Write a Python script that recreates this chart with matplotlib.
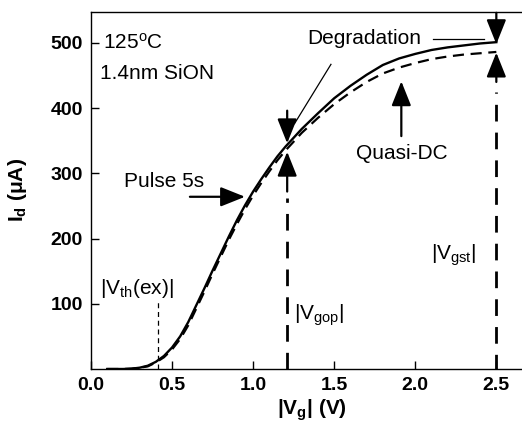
import numpy as np
import matplotlib
matplotlib.use("Agg")
import matplotlib.pyplot as plt

plt.rcParams['font.family'] = ['Liberation Sans', 'DejaVu Sans']
plt.rcParams['mathtext.fontset'] = 'custom'
plt.rcParams['mathtext.rm'] = 'Liberation Sans'
plt.rcParams['mathtext.it'] = 'Liberation Sans:italic'
plt.rcParams['mathtext.bf'] = 'Liberation Sans:bold'

# gate voltage points (V)
vg = [0.10, 0.20, 0.25, 0.30, 0.35, 0.40, 0.45, 0.50, 0.55, 0.60, 0.65, 0.70, 0.75,
      0.80, 0.85, 0.90, 0.95, 1.00, 1.05, 1.10, 1.15, 1.20, 1.30, 1.40, 1.50, 1.60,
      1.70, 1.80, 1.90, 2.00, 2.10, 2.20, 2.30, 2.40, 2.50]
# pulse 5s curve (solid), uA
id_pulse = [0, 0, 0.5, 2, 5, 11, 20, 33, 50, 72, 98, 124, 151,
            177, 203, 228, 251, 272, 291, 309, 326, 341, 368, 392, 415, 434,
            451, 466, 476, 483, 489, 493, 496, 499, 501]
# quasi-DC curve (dashed), uA
id_qdc = [0, 0, 0.5, 2, 4, 10, 18, 30, 46, 67, 93, 119, 146,
          172, 198, 222, 245, 266, 285, 303, 320, 335, 362, 385, 406, 424,
          440, 453, 462, 469, 475, 479, 482, 484, 486]

v_th = 0.414
v_gop = 1.21
v_gst = 2.5

xticks = [0.0, 0.5, 1.0, 1.5, 2.0, 2.5]
yticks = [100, 200, 300, 400, 500]

fig = plt.figure(figsize=(5.22, 4.26), dpi=100)
ax = fig.add_axes([91 / 522, 57 / 426, 441 / 522, 357.5 / 426])

ax.plot(vg, id_pulse, color='black', lw=1.7)
ax.plot(vg, id_qdc, color='black', lw=1.6, ls=(0, (5, 3)))

# guide lines
ax.plot([v_th, v_th], [0, 102], color='black', lw=0.9, ls=(0, (4, 3)))
ax.plot([v_gop, v_gop], [0, 262], color='black', lw=2.0, ls=(0, (6, 4)))
ax.plot([v_gst, v_gst], [-3, 425], color='black', lw=2.0, ls=(0, (6, 4)))

arrow = dict(arrowstyle='-|>,head_length=0.75,head_width=0.3', color='black',
             lw=1.6, mutation_scale=20, shrinkA=0, shrinkB=0)

ax.annotate('', xy=(v_gop, 346), xytext=(v_gop, 396), arrowprops=arrow)
ax.annotate('', xy=(v_gop, 333), xytext=(v_gop, 272), arrowprops=arrow)
ax.annotate('', xy=(v_gst, 498), xytext=(v_gst, 546), arrowprops=arrow, annotation_clip=False)
ax.annotate('', xy=(v_gst, 485), xytext=(v_gst, 440), arrowprops=arrow)
ax.annotate('', xy=(1.914, 441), xytext=(1.914, 357), arrowprops=arrow)
ax.annotate('', xy=(0.95, 264), xytext=(0.61, 264), arrowprops=arrow)

# degradation pointers
ax.plot([1.48, 1.255], [467, 376], color='black', lw=0.9)
ax.plot([2.11, 2.425], [506, 506], color='black', lw=0.9)

fs = 15
ax.text(0.074, 500, '125$^{\\rm o}$C', fontsize=fs, va='center', ha='left')
ax.text(0.056, 453, '1.4nm SiON', fontsize=fs, va='center', ha='left')
ax.text(0.45, 287, 'Pulse 5s', fontsize=fs, va='center', ha='center')
ax.text(1.685, 506, 'Degradation', fontsize=fs, va='center', ha='center')
ax.text(1.92, 330, 'Quasi-DC', fontsize=fs, va='center', ha='center')
ax.text(0.056, 115, '|V$_{\\rm th}$(ex)|', fontsize=fs, va='baseline', ha='left')
ax.text(1.253, 75, '|V$_{\\rm gop}$|', fontsize=fs, va='baseline', ha='left')
ax.text(2.10, 168, '|V$_{\\rm gst}$|', fontsize=fs, va='baseline', ha='left')

ax.set_xlim(0, 2.72)
ax.set_ylim(0, 548)
ax.set_xticks(xticks)
ax.set_xticklabels([f'{t:.1f}' for t in xticks])
ax.set_yticks(yticks)
ax.tick_params(direction='in', length=6, width=1, labelsize=14, pad=6)
for lab in ax.get_xticklabels() + ax.get_yticklabels():
    lab.set_fontweight('bold')
ax.spines['right'].set_visible(False)
for s in ['left', 'top', 'bottom']:
    ax.spines[s].set_linewidth(1.0)

ax.set_xlabel('|V$_{\\mathbf{g}}$| (V)', fontsize=15, fontweight='bold', labelpad=2)
ax.set_ylabel('I$_{\\mathbf{d}}$ (\u03bcA)', fontsize=15, fontweight='bold', labelpad=15)

fig.savefig('out.png', dpi=100)
